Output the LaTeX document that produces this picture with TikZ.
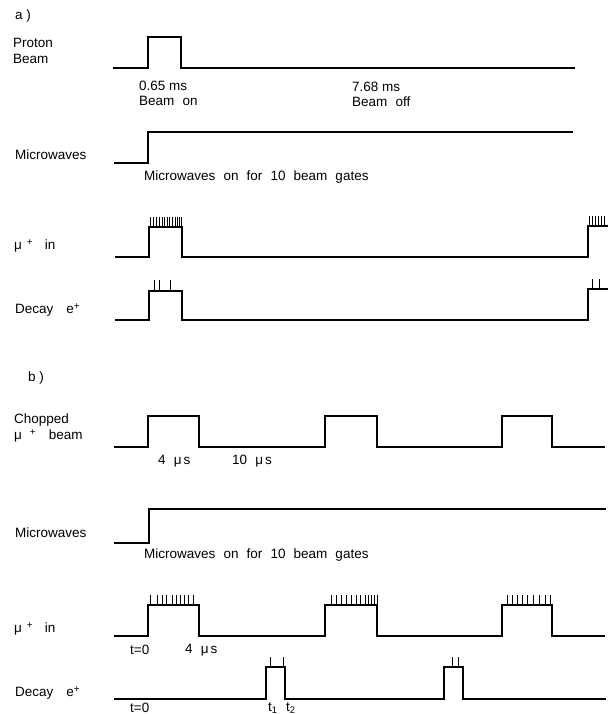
\documentclass[tikz,border=0pt]{standalone}
\usepackage{fontspec}
\setmainfont{Liberation Sans}
\newcommand{\usec}{μ\hspace{0.15em}s}
\newcommand{\plus}{\raisebox{0.55ex}{\fontsize{10}{10}\selectfont +}}
\begin{document}
\begin{tikzpicture}[x=1pt, y=-1pt,
    sig/.style={line width=1.1pt, line join=miter},
    tk/.style={line width=0.8pt},
    lbl/.style={anchor=west, inner sep=0pt,
      font={\fontsize{13.5}{16}\selectfont}},
    wide/.style={lbl, font={\fontsize{13.5}{16}\selectfont\spaceskip=0.6em\relax}}]
\useasboundingbox (0,0) rectangle (608,714);
% ---- part a)
\node[lbl] (pa) at (15,16) {a )};
\node[lbl] (proton) at (13,43) {Proton};
\node[lbl] (beam) at (13,59) {Beam};
\node[lbl] (mwa) at (15,155) {Microwaves};
\node[lbl] (muina) at (14,246) {μ\hspace{5pt}\plus\hspace{12pt}in};
\node[lbl] (deca) at (15,310) {Decay\hspace{13pt}e\plus};
\draw[sig] (113,68) -- (148,68) -- (148,37) -- (181,37) -- (181,68) -- (575,68);
\node[lbl] (on) at (139,86) {0.65 ms};
\node[wide] (on2) at (139,101) {Beam on};
\node[lbl] (off) at (352,87) {7.68 ms};
\node[wide] (off2) at (352,102) {Beam off};
\draw[sig] (114,163) -- (148,163) -- (148,132) -- (573,132);
\node[wide] (gatesa) at (144,177) {Microwaves on for 10 beam gates};
\draw[sig] (115,257) -- (149,257) -- (149,227) -- (182,227) -- (182,257) -- (588,257) -- (588,226) -- (608,226);
\foreach \t in {150,153,156,159,162,164,167,169,172,175,177,179,181}
  \draw[tk] (\t,227) -- (\t,217);
\foreach \t in {589,592,595,598,601,604}
  \draw[tk] (\t,226) -- (\t,216);
\draw[sig] (115,320) -- (149,320) -- (149,291) -- (182,291) -- (182,320) -- (588,320) -- (588,289) -- (608,289);
\foreach \t in {154,159,170}
  \draw[tk] (\t,291) -- (\t,280);
\foreach \t in {592,599}
  \draw[tk] (\t,289) -- (\t,279);
% ---- part b)
\node[lbl] (pb) at (28,378) {b )};
\node[lbl] (chop) at (14,420) {Chopped};
\node[lbl] (chop2) at (14,436) {μ\hspace{8pt}\plus\hspace{13pt}beam};
\node[lbl] (mwb) at (15,533) {Microwaves};
\node[lbl] (muinb) at (14,629) {μ\hspace{5pt}\plus\hspace{12pt}in};
\node[lbl] (decb) at (15,693) {Decay\hspace{13pt}e\plus};
\draw[sig] (114,447) foreach \a/\b in {148/199,325/377,502/552}
  { -- (\a,447) -- (\a,416) -- (\b,416) -- (\b,447) } -- (605,447);
\node[wide] (wid) at (158,461) {4 \usec};
\node[wide] (gap) at (232,461) {10 \usec};
\draw[sig] (114,543) -- (149,543) -- (149,509) -- (606,509);
\node[wide] (gatesb) at (144,555) {Microwaves on for 10 beam gates};
\draw[sig] (114,636) foreach \a/\b in {148/199,325/377,502/552}
  { -- (\a,636) -- (\a,605) -- (\b,605) -- (\b,636) } -- (605,636);
\foreach \t in {150,157,162,166,172,176,180,184,188,193,
    331,336,341,346,351,356,360,365,368,371,374,377,
    507,512,517,522,527,533,539,545,550}
  \draw[tk] (\t,605) -- (\t,595);
\node[lbl] (tzero) at (130,650) {t=0};
\node[wide] (tfour) at (185,650) {4 \usec};
\draw[sig] (114,699) foreach \a/\b in {266/285,444/463}
  { -- (\a,699) -- (\a,667) -- (\b,667) -- (\b,699) } -- (606,699);
\foreach \t in {270,283,452,458}
  \draw[tk] (\t,667) -- (\t,657);
\node[lbl] (tzerob) at (130,708) {t=0};
\node[lbl] (tone) at (268,708) {t\textsubscript{1}};
\node[lbl] (ttwo) at (286,708) {t\textsubscript{2}};
\end{tikzpicture}
\end{document}
